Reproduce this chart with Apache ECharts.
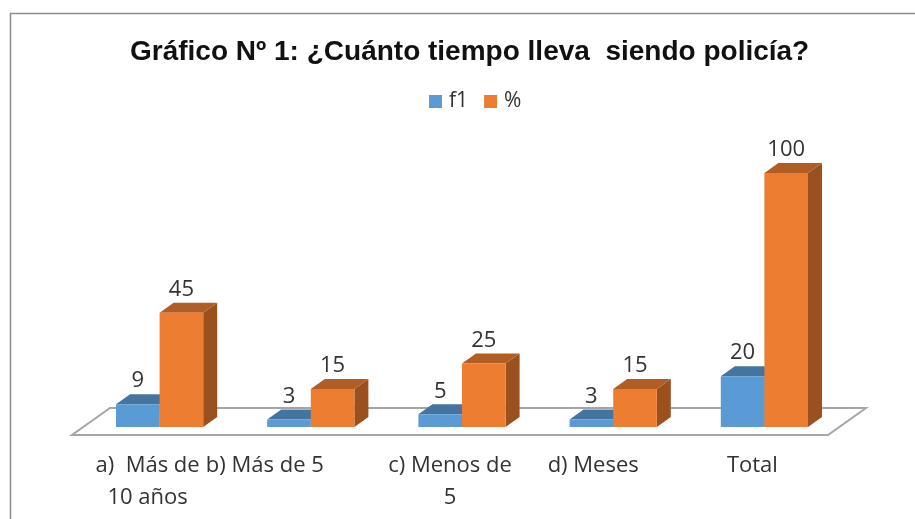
<!DOCTYPE html>
<html>
<head>
<meta charset="utf-8">
<style>html,body{margin:0;padding:0;background:#fff}#c{width:915px;height:519px}</style>
<script src="https://cdn.jsdelivr.net/npm/echarts@6/dist/echarts.min.js"></script>
</head>
<body>
<div id="c"></div>
<script>
const categories = ['a)  Más de\n10 años', 'b) Más de 5', 'c) Menos de\n5', 'd) Meses', 'Total'];
const f1Values = [9, 3, 5, 3, 20];
const pctValues = [45, 15, 25, 15, 100];
const seriesNames = ['f1', '%'];
const titleText = 'Gráfico Nº 1: ¿Cuánto tiempo lleva  siendo policía?';

const labelFont = '"Open Sans", "Noto Sans", sans-serif';
const labelColor = '#333333';
const BAR_WIDTH = 43.6, DX = 14, DY = -10;     // bar width and 3D depth vector
const INSET_X = 12, INSET_Y = -8;              // bars stand inside the floor
const FLOOR_DX = 38, FLOOR_DY = -27;           // floor depth vector

function barRenderer(side, front, top, right) {
  return function (params, api) {
    const base = api.coord([api.value(0), 0]);
    const head = api.coord([api.value(0), api.value(1)]);
    const x0 = base[0] + INSET_X + side * BAR_WIDTH;
    const x1 = x0 + BAR_WIDTH;
    const yb = base[1] + INSET_Y;
    const yt = head[1] + INSET_Y;
    return {
      type: 'group',
      children: [
        { type: 'polygon', shape: { points: [[x1, yt], [x1 + DX, yt + DY], [x1 + DX, yb + DY], [x1, yb]] }, style: { fill: right } },
        { type: 'polygon', shape: { points: [[x0, yt], [x1, yt], [x1 + DX, yt + DY], [x0 + DX, yt + DY]] }, style: { fill: top } },
        { type: 'rect', shape: { x: x0, y: yt, width: BAR_WIDTH, height: yb - yt }, style: { fill: front } },
        { type: 'text', style: { text: String(api.value(1)), x: (x0 + x1) / 2, y: yt + DY - 13, align: 'center', verticalAlign: 'middle', font: '22px ' + labelFont, fill: labelColor } }
      ]
    };
  };
}

function floorRenderer(params, api) {
  const band = api.size([1, 0])[0];
  const a = api.coord([0, 0]);
  const b = api.coord([categories.length - 1, 0]);
  const xl = a[0] - band / 2, xr = b[0] + band / 2, y = a[1];
  return {
    type: 'polygon',
    shape: { points: [[xl, y], [xr, y], [xr + FLOOR_DX, y + FLOOR_DY], [xl + FLOOR_DX, y + FLOOR_DY]] },
    style: { fill: '#ffffff', stroke: '#a6a6a6', lineWidth: 2 }
  };
}

const labelPads = [[0, 0, 0, 0], [0, 68, 0, 0], [0, 0, 0, 0], [0, 16, 0, 0], [0, 0, 0, 0]];
const rich = {};
labelPads.forEach((p, i) => { rich['s' + i] = { padding: p, fontFamily: labelFont, fontSize: 22, color: labelColor, lineHeight: 32 }; });

const chart = echarts.init(document.getElementById('c'), null, { renderer: 'canvas' });
chart.setOption({
  animation: false,
  backgroundColor: '#ffffff',
  title: {
    text: titleText, left: 125, top: 33,
    textStyle: { fontFamily: '"Liberation Sans", Arial, sans-serif', fontWeight: 'bold', fontSize: 28, color: '#111111' }
  },
  legend: {
    data: seriesNames, left: 424, top: 86, itemWidth: 13, itemHeight: 13, itemGap: 16, icon: 'rect',
    textStyle: { fontFamily: labelFont, fontSize: 21, color: labelColor, padding: [0, 0, 0, 2] }
  },
  grid: { left: 72, width: 756, top: 181, height: 254, containLabel: false, outerBoundsMode: 'none' },
  xAxis: {
    type: 'category', data: categories,
    axisLine: { show: false }, axisTick: { show: false }, splitLine: { show: false },
    axisLabel: {
      interval: 0, margin: 15, hideOverlap: false, color: labelColor, fontFamily: labelFont, fontSize: 22, lineHeight: 32,
      formatter: (v, i) => v.split('\n').map(l => '{s' + i + '|' + l + '}').join('\n'),
      rich: rich
    }
  },
  yAxis: { type: 'value', min: 0, max: 100, show: false },
  graphic: [
    { type: 'polyline', silent: true, shape: { points: [[10.5, 519], [10.5, 13.5], [915, 13.5]] }, style: { fill: 'none', stroke: '#8c8c8c', lineWidth: 1.5 } }
  ],
  series: [
    { type: 'custom', name: 'floor', silent: true, clip: false, renderItem: floorRenderer, data: [[0, 0]], z: 1 },
    { type: 'custom', name: seriesNames[0], clip: false, z: 2, itemStyle: { color: '#5B9BD5' },
      renderItem: barRenderer(-1, '#5B9BD5', '#44749F', '#3E6D97'),
      data: f1Values.map((v, i) => [i, v]) },
    { type: 'custom', name: seriesNames[1], clip: false, z: 3, itemStyle: { color: '#ED7D31' },
      renderItem: barRenderer(0, '#ED7D31', '#B15E25', '#9A501F'),
      data: pctValues.map((v, i) => [i, v]) }
  ]
});
</script>
</body>
</html>
